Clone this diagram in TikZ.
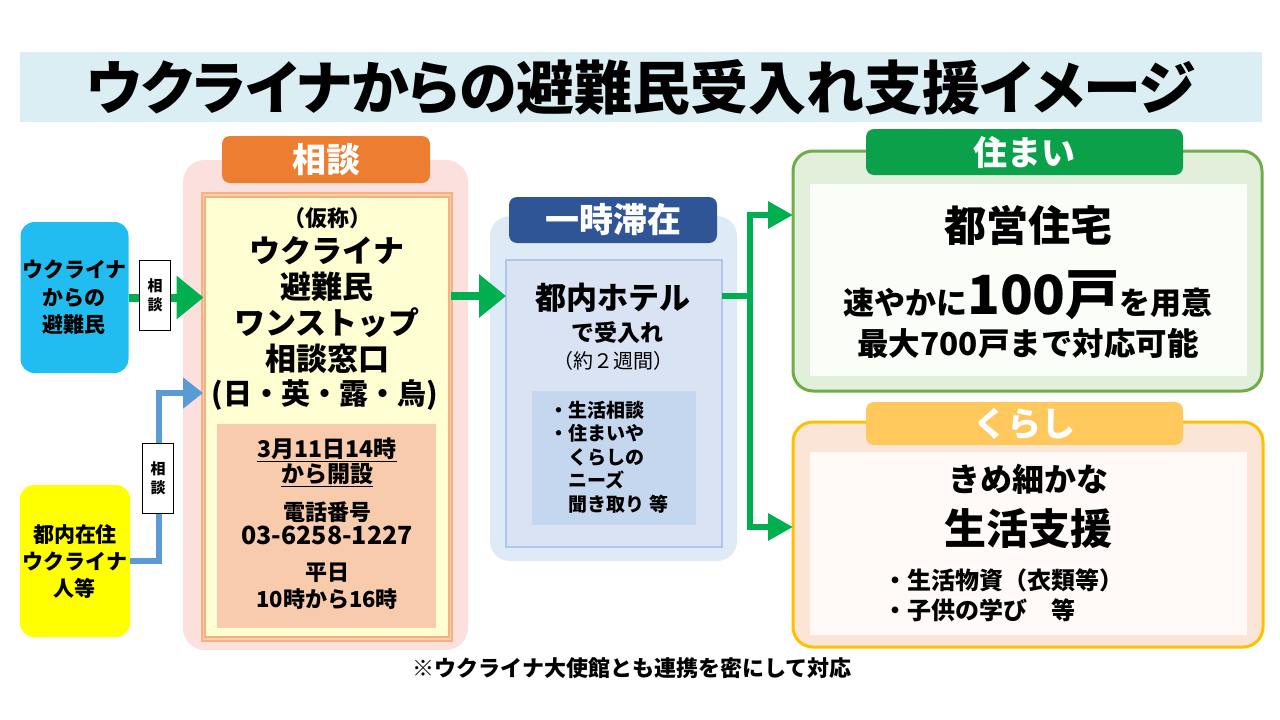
\documentclass[tikz,border=0pt]{standalone}
\usepackage{fontspec}
\setmainfont{Noto Sans CJK JP}
\newfontfamily\titlefont{Noto Sans CJK JP}[RawFeature=+palt]
\usetikzlibrary{arrows.meta}

\definecolor{bandblue}{HTML}{DAEEF3}
\definecolor{refugeeblue}{HTML}{22BDF0}
\definecolor{residentyellow}{HTML}{FFFF00}
\definecolor{linkblue}{HTML}{5B9BD5}
\definecolor{flowgreen}{HTML}{00B050}
\definecolor{consultpink}{HTML}{FBE0DE}
\definecolor{consultorange}{HTML}{ED7D31}
\definecolor{windowcream}{HTML}{FFFDD2}
\definecolor{windowline}{HTML}{F4B183}
\definecolor{hoursbox}{HTML}{F8CBAD}
\definecolor{stayback}{HTML}{DEEBF7}
\definecolor{staynavy}{HTML}{2F5597}
\definecolor{stayinner}{HTML}{DAE3F3}
\definecolor{stayline}{HTML}{B0C6E8}
\definecolor{staynote}{HTML}{C5D6EF}
\definecolor{homegreen}{HTML}{0BA14B}
\definecolor{homeback}{HTML}{E2EFDA}
\definecolor{homeline}{HTML}{70AD47}
\definecolor{homeinner}{HTML}{FAFDF8}
\definecolor{lifegold}{HTML}{FFC85C}
\definecolor{lifeback}{HTML}{FBE5D6}
\definecolor{lifeline}{HTML}{FFC000}
\definecolor{lifeinner}{HTML}{FFFAF7}

\newcommand{\px}[2]{\fontsize{#1}{#2}\selectfont\bfseries}

\tikzset{
  area/.style 2 args={minimum width=#1pt, minimum height=#2pt, inner sep=0pt, outer sep=0pt},
  tab/.style={text=white, rounded corners=8pt, font=\px{34}{40}},
  talkbox/.style={fill=white, draw=black, line width=0.8pt, area={31}{70}, align=center, font=\px{15}{19}},
  bigflow/.style={draw=flowgreen, line width=8pt, -{Triangle[length=27pt,width=42pt]}},
  branchflow/.style={draw=flowgreen, line width=6pt, -{Triangle[length=25pt,width=26pt]}},
  residentflow/.style={draw=linkblue, line width=6pt, -{Triangle[length=20pt,width=30pt]}},
}

\begin{document}
\begin{tikzpicture}[x=1pt,y=-1pt]
	\useasboundingbox[fill=white] (0,0) rectangle (1280,720);
	% title
		\node[area={1242}{70}, fill=bandblue, font=\titlefont\px{58}{62}] (band) at (641,87) {ウクライナからの避難民受入れ支援イメージ};
	% left people
		\node[area={108}{151}, fill=refugeeblue, rounded corners=14pt, align=center, font=\px{21}{27.5}] (refugee) at (74.5,297.5) {ウクライナ\\からの\\避難民};
		\node[area={110}{152}, fill=residentyellow, rounded corners=14pt, align=center, font=\px{21}{27}] (resident) at (75,561) {都内在住\\ウクライナ\\人等};
	% consultation
		\node[area={285}{490}, fill=consultpink, rounded corners=22pt] (consult) at (325.5,405) {};
		\node[area={208}{47}, fill=consultorange, tab] (consulthead) at (326,159.5) {相談};
		\node[area={247}{444}, fill=windowcream, draw=windowline, line width=2pt, double=windowline!60!windowcream, double distance=1.5pt] (window) at (327,417) {};
		\node[font=\px{22}{26}] (alias) at (327,218) {（仮称）};
		\node[align=center, font=\px{31}{36}] (windowname) at (327,305) {ウクライナ\\避難民\\ワンストップ\\相談窓口};
		\node[font=\px{29}{34}] (languages) at (325,395) {(日・英・露・烏)};
		\node[area={219}{204}, fill=hoursbox] (hours) at (326.5,525.5) {};
		\node[align=center, font=\px{23}{25}] (opening) at (327,462) {\underline{3月11日14時}\\\underline{から開設}};
		\node[align=center, font=\px{22}{24}] (phone) at (327,523.5) {電話番号\\{\fontsize{25}{24}\selectfont 03-6258-1227}};
		\node[align=center, font=\px{22}{27}] (weekday) at (327,586.5) {平日\\10時から16時};
	% temporary stay
		\node[area={247}{345}, fill=stayback, rounded corners=20pt] (stay) at (613.5,388.5) {};
		\node[area={208}{46}, fill=staynavy, tab] (stayhead) at (613,220) {一時滞在};
		\node[area={216}{287}, fill=stayinner, draw=stayline, line width=2.5pt] (hotel) at (614,403.5) {};
		\node[font=\px{31}{36}] (hotelname) at (613,298) {都内ホテル};
		\node[font=\px{23}{28}] (hotelnote) at (617,333) {で受入れ};
		\node[font=\fontsize{20}{24}\selectfont] (hotelterm) at (613,361) {（約２週間）};
		\node[area={164}{134}, fill=staynote] (needs) at (613.5,458) {};
		\node[align=left, font=\px{19}{23.5}] (needlist) at (609,457) {・生活相談\\・住まいや\\　くらしの\\　ニーズ\\　聞き取り 等};
	% housing
		\node[area={469}{240}, fill=homeback, draw=homeline, line width=3pt, rounded corners=20pt] (housing) at (1027.5,271) {};
		\node[area={317}{46}, fill=homegreen, tab] (housinghead) at (1024.5,152) {住まい};
		\node[area={437}{192}, fill=homeinner] (housinginner) at (1028.5,280) {};
		\node[font=\px{42}{48}] (estates) at (1028,225) {都営住宅};
		\node[font=\px{31}{36}] (units) at (1028,295) {速やかに{\fontsize{54}{56}\selectfont 100戸}を用意};
		\node[font=\px{31.5}{36}] (maxunits) at (1028,343) {最大700戸まで対応可能};
	% living
		\node[area={470}{225}, fill=lifeback, draw=lifeline, line width=3pt, rounded corners=20pt] (living) at (1028,534.5) {};
		\node[area={317}{43}, fill=lifegold, tab] (livinghead) at (1024.5,423.5) {くらし};
		\node[area={437}{183}, fill=lifeinner] (livinginner) at (1028.5,543.5) {};
		\node[font=\px{32}{36}] (careful) at (1028,479) {きめ細かな};
		\node[font=\px{42}{48}] (support) at (1028,529) {生活支援};
		\node[anchor=west, align=left, font=\px{24}{30}] (supplies) at (880,595) {・生活物資（衣類等）\\・子供の学び　等};
	% note
		\node[font=\px{22}{26}] (footnote) at (632,668) {※ウクライナ大使館とも連携を密にして対応};
	% connectors
		\coordinate (entry) at (203,393);
		\coordinate (split) at (750,296);
		\coordinate (upper) at (750,215);
		\coordinate (lower) at (750,527);
		\draw[bigflow] (refugee.east) -- (refugee.east -| window.west);
		\draw[residentflow] (resident.east) -- ++(29,0) |- (entry);
		\draw[bigflow] (window.east |- split) -- (hotel.west |- split);
		\draw[draw=flowgreen, line width=6pt] (hotel.east |- split) -- (split);
		\draw[branchflow] (split) -- (upper) -- (upper -| housing.west);
		\draw[branchflow] (split) -- (lower) -- (lower -| living.west);
		\node[talkbox] (talkone) at (155,295) {相\\談};
		\node[talkbox] (talktwo) at (158,478) {相\\談};
\end{tikzpicture}
\end{document}
